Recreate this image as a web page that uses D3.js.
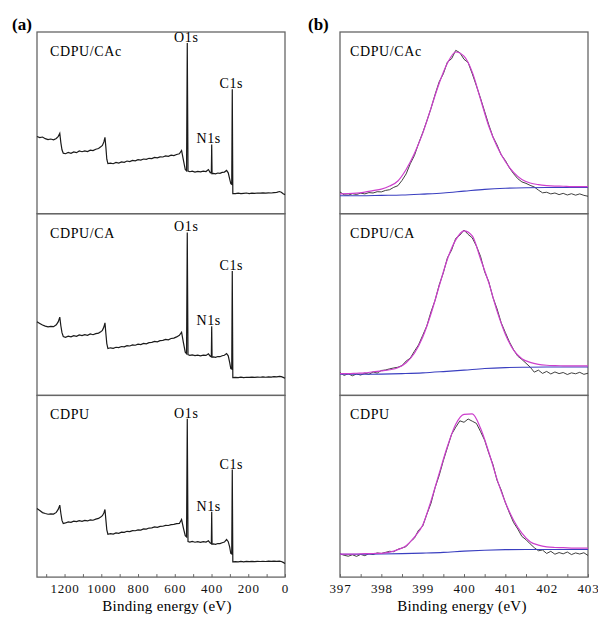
<!DOCTYPE html>
<html>
<head>
<meta charset="utf-8">
<script src="https://cdn.jsdelivr.net/npm/d3@7"></script>
<style>
  body { margin: 0; background: #fff; }
  svg text { font-family: "Liberation Serif", "Times New Roman", serif; }
</style>
</head>
<body>
<div id="chart"></div>
<script>
const samples = ["CDPU/CAc", "CDPU/CA", "CDPU"];

// survey spectra (a)
const surveyEnergy = [
  1350, 1335, 1320, 1305, 1290, 1275, 1260, 1245, 1234, 1226,
  1220, 1214, 1207, 1195, 1180, 1165, 1150, 1135, 1120, 1105,
  1090, 1075, 1060, 1045, 1030, 1015, 1003, 994, 986, 980,
  975, 970, 964, 950, 935, 920, 905, 890, 875, 860,
  845, 830, 815, 800, 785, 770, 755, 740, 725, 710,
  695, 680, 665, 650, 635, 620, 605, 590, 575, 563,
  553, 543, 536, 532, 528, 518, 505, 490, 475, 460,
  445, 430, 417, 407, 401, 399, 397, 390, 378, 366,
  354, 342, 330, 318, 309, 301, 295, 290, 287, 284,
  270, 255, 240, 225, 210, 195, 180, 165, 150, 135,
  120, 105, 90, 75, 60, 45, 30, 20, 10, 0
];
const surveyCAc = [
  42.5, 41.9, 42.2, 41.3, 40.8, 41.1, 40.7, 41.4, 42.6, 44.2,
  39.0, 35.2, 33.3, 33.0, 33.7, 33.2, 34.0, 33.6, 34.5, 34.1,
  34.6, 34.2, 35.0, 34.7, 35.5, 35.9, 36.8, 37.6, 39.5, 42.0,
  36.5, 30.0, 27.6, 27.8, 27.5, 28.2, 27.9, 28.5, 28.3, 29.0,
  28.7, 29.3, 29.1, 29.7, 29.5, 30.1, 29.9, 30.5, 30.3, 31.0,
  30.7, 31.3, 31.2, 31.8, 31.6, 32.2, 32.0, 32.6, 33.0, 34.8,
  29.5, 24.3, 23.6, 93.9, 23.5, 23.1, 23.4, 22.9, 23.3, 23.0,
  23.4, 23.2, 24.3, 22.6, 22.4, 38.1, 22.0, 22.2, 21.9, 22.4,
  22.2, 22.7, 22.9, 23.8, 22.5, 19.0, 16.6, 16.2, 68.5, 11.0,
  11.1, 11.3, 11.0, 11.2, 11.4, 11.1, 11.3, 11.2, 11.4, 11.3,
  11.5, 11.3, 11.5, 11.4, 11.6, 11.7, 12.2, 11.8, 11.0, 10.5
];
const surveyCA = [
  40.5, 39.6, 38.7, 38.1, 37.7, 38.0, 37.8, 38.9, 40.6, 43.1,
  38.2, 34.5, 32.4, 32.0, 32.6, 32.2, 32.9, 32.5, 33.3, 32.9,
  33.4, 33.1, 33.8, 33.4, 34.0, 34.3, 35.0, 35.8, 37.6, 39.9,
  34.0, 28.5, 25.8, 26.2, 25.9, 26.5, 26.3, 26.9, 26.7, 27.4,
  27.2, 27.8, 27.6, 28.2, 28.0, 28.6, 28.4, 29.0, 29.2, 29.7,
  29.5, 30.1, 30.3, 30.8, 30.6, 31.3, 31.5, 32.2, 33.1, 34.8,
  29.0, 23.8, 23.0, 89.7, 22.4, 22.0, 22.3, 21.9, 22.2, 21.8,
  22.2, 22.0, 22.9, 21.6, 21.3, 38.1, 21.0, 21.2, 20.9, 21.4,
  21.3, 21.8, 22.1, 23.0, 21.8, 18.0, 14.8, 14.5, 68.5, 9.8,
  9.9, 9.8, 10.0, 9.8, 10.0, 9.9, 10.1, 9.9, 10.1, 10.0,
  10.2, 10.0, 10.2, 10.1, 10.3, 10.2, 10.5, 10.3, 9.9, 9.4
];
const surveyCDPU = [
  37.7, 36.6, 35.5, 35.0, 34.6, 34.8, 34.7, 35.6, 37.4, 39.6,
  35.0, 31.2, 29.5, 29.8, 30.4, 30.1, 30.8, 30.5, 31.1, 30.7,
  31.2, 30.9, 31.5, 31.3, 31.9, 32.3, 33.1, 33.8, 35.3, 37.2,
  31.5, 26.0, 23.6, 23.9, 23.7, 24.3, 24.1, 24.7, 24.6, 25.2,
  25.0, 25.6, 25.5, 26.0, 25.9, 26.5, 26.4, 27.0, 27.1, 27.6,
  27.4, 27.9, 28.0, 28.5, 28.4, 28.9, 29.0, 29.4, 29.5, 31.7,
  27.0, 22.8, 22.1, 87.2, 19.6, 19.3, 19.6, 19.2, 19.5, 19.1,
  19.5, 19.3, 20.0, 18.7, 18.4, 35.9, 18.1, 18.3, 18.0, 18.5,
  18.4, 18.9, 19.3, 20.7, 19.5, 16.5, 13.0, 12.7, 59.2, 8.4,
  8.5, 8.4, 8.6, 8.4, 8.6, 8.5, 8.7, 8.5, 8.7, 8.6,
  8.7, 8.6, 8.8, 8.7, 8.8, 8.7, 8.8, 8.6, 8.1, 7.5
];
const peakNames = ["O1s", "N1s", "C1s"];
const peakEnergy = [532, 399, 287];

// N1s high resolution (b)
const rawEnergy = [
  397.0, 397.1, 397.2, 397.3, 397.4, 397.5, 397.6, 397.7, 397.8, 397.9,
  398.0, 398.1, 398.2, 398.3, 398.4, 398.5, 398.6, 398.7, 398.8, 398.9,
  399.0, 399.1, 399.2, 399.3, 399.4, 399.5, 399.6, 399.7, 399.8, 399.9,
  400.0, 400.1, 400.2, 400.3, 400.4, 400.5, 400.6, 400.7, 400.8, 400.9,
  401.0, 401.1, 401.2, 401.3, 401.4, 401.5, 401.6, 401.7, 401.8, 401.9,
  402.0, 402.1, 402.2, 402.3, 402.4, 402.5, 402.6, 402.7, 402.8, 402.9,
  403.0
];
const rawCAc = [
  12.0, 10.4, 10.2, 11.0, 10.6, 11.3, 10.9, 11.6, 11.4, 12.1,
  12.0, 12.8, 13.2, 14.5, 15.4, 18.3, 21.9, 27.5, 32.0, 38.6,
  44.5, 51.0, 57.8, 65.6, 72.6, 77.0, 83.5, 85.3, 89.9, 88.6,
  85.0, 83.2, 77.0, 70.4, 63.5, 56.2, 48.9, 42.3, 37.8, 32.4,
  29.3, 25.2, 22.0, 19.3, 17.5, 16.7, 15.6, 14.7, 13.0, 11.5,
  11.8, 10.9, 11.4, 10.5, 11.2, 10.3, 11.0, 10.2, 10.9, 10.1,
  9.6
];
const rawCA = [
  12.5, 11.0, 11.9, 10.8, 11.8, 11.2, 12.2, 11.6, 12.9, 12.3,
  13.7, 14.0, 14.6, 15.1, 15.5, 16.4, 18.9, 20.5, 24.3, 27.8,
  33.0, 38.2, 45.9, 52.3, 60.8, 67.5, 75.8, 80.0, 86.4, 88.2,
  91.0, 88.6, 86.7, 82.2, 76.5, 68.0, 62.5, 53.9, 47.6, 40.0,
  34.6, 29.4, 25.1, 21.6, 19.8, 17.7, 15.6, 12.8, 13.9, 12.1,
  13.2, 11.8, 12.9, 12.0, 12.6, 11.5, 12.4, 11.9, 12.7, 11.6,
  12.2
];
const rawCDPU = [
  12.8, 12.0, 11.5, 12.3, 11.4, 12.5, 11.8, 12.9, 12.4, 13.3,
  13.0, 13.6, 14.2, 14.0, 15.3, 16.0, 16.8, 19.5, 21.4, 25.8,
  28.0, 34.6, 40.5, 49.2, 56.0, 64.1, 71.4, 78.6, 82.5, 86.0,
  85.2, 87.0, 85.8, 84.6, 80.1, 75.3, 68.2, 62.0, 53.2, 47.9,
  41.0, 35.3, 30.0, 26.5, 22.4, 20.6, 18.3, 16.2, 14.5, 14.9,
  13.0, 14.2, 12.6, 13.5, 12.8, 13.8, 12.4, 13.3, 12.7, 13.4,
  11.9
];

const fitEnergy = [
  397.0, 397.2, 397.4, 397.6, 397.8, 398.0, 398.2, 398.4, 398.6, 398.8,
  399.0, 399.2, 399.4, 399.6, 399.8, 400.0, 400.2, 400.4, 400.6, 400.8,
  401.0, 401.2, 401.4, 401.6, 401.8, 402.0, 402.2, 402.4, 402.6, 402.8,
  403.0
];
const fitCAc = [
  10.9, 11.0, 11.3, 11.9, 12.7, 13.5, 15.2, 18.0, 24.3, 33.1,
  44.2, 58.0, 71.8, 82.9, 89.0, 86.7, 77.9, 63.0, 48.1, 37.0,
  28.7, 22.7, 18.8, 16.9, 16.0, 15.5, 15.2, 15.1, 14.9, 14.9,
  14.9
];
const fitCA = [
  12.0, 12.0, 12.2, 12.4, 13.0, 13.5, 14.1, 15.2, 18.0, 23.2,
  32.0, 44.8, 60.2, 75.1, 85.6, 90.6, 87.8, 75.1, 61.9, 46.4,
  33.7, 24.9, 20.2, 18.2, 17.1, 16.6, 16.4, 16.3, 16.2, 16.2,
  16.2
];
const fitCDPU = [
  12.6, 12.6, 12.7, 12.9, 13.0, 13.1, 13.7, 15.1, 17.3, 22.0,
  28.6, 41.8, 57.1, 72.0, 84.1, 89.6, 89.8, 81.9, 68.7, 53.8,
  41.2, 31.3, 24.2, 19.5, 17.6, 16.6, 16.3, 16.2, 16.0, 15.9,
  15.9
];

const baseEnergy = [397.0, 397.5, 398.0, 398.5, 399.0, 399.5, 400.0, 400.5, 401.0, 401.5, 402.0, 402.5, 403.0];
const baseCAc = [9.9, 9.9, 10.1, 10.3, 10.8, 11.4, 12.4, 13.4, 14.0, 14.3, 14.4, 14.4, 14.4];
const baseCA = [11.6, 11.6, 11.7, 12.0, 12.4, 13.1, 13.9, 14.8, 15.3, 15.5, 15.6, 15.6, 15.6];
const baseCDPU = [12.6, 12.6, 12.7, 12.9, 13.2, 13.6, 14.3, 14.8, 15.1, 15.2, 15.2, 15.2, 15.2];

const surveyTicks = [0, 100, 200, 300, 400, 500, 600, 700, 800, 900, 1000, 1100, 1200, 1300];
const n1sTicks = [397, 397.5, 398, 398.5, 399, 399.5, 400, 400.5, 401, 401.5, 402, 402.5, 403];

const surveys = [surveyCAc, surveyCA, surveyCDPU];
const raws = [rawCAc, rawCA, rawCDPU];
const fits = [fitCAc, fitCA, fitCDPU];
const bases = [baseCAc, baseCA, baseCDPU];

const size = { width: 598, height: 617 };
const panelTop = 32;
const panelH = 181.7;
const colors = { frame: "#666", raw: "#1a1a1a", fit: "#cc3fcc", base: "#3a3fc0" };

const svg = d3
  .select("#chart")
  .append("svg")
  .attr("width", size.width)
  .attr("height", size.height)
  .style("background", "#fff");

const xSurvey = d3.scaleLinear().domain([1350, 0]).range([37, 285]);
const xN1s = d3.scaleLinear().domain([397, 403]).range([340, 588]);
const yPanel = (i) =>
  d3
    .scaleLinear()
    .domain([0, 100])
    .range([panelTop + (i + 1) * panelH, panelTop + i * panelH]);

const pair = (xs, ys) => xs.map((x, i) => [x, ys[i]]);

samples.forEach((name, i) => {
  const y = yPanel(i);

  // left: survey
  svg
    .append("rect")
    .attr("x", 37)
    .attr("y", panelTop + i * panelH)
    .attr("width", 248)
    .attr("height", panelH)
    .attr("fill", "none")
    .attr("stroke", colors.frame)
    .attr("stroke-width", 1.3);

  svg
    .append("path")
    .datum(pair(surveyEnergy, surveys[i]))
    .attr("fill", "none")
    .attr("stroke", colors.raw)
    .attr("stroke-width", 1.2)
    .attr("d", d3.line().x((d) => xSurvey(d[0])).y((d) => y(d[1])));

  const peakShift = [-1, -3, -1];
  peakNames.forEach((p, k) => {
    const v = surveys[i][surveyEnergy.indexOf(peakEnergy[k])];
    svg
      .append("text")
      .attr("x", xSurvey(peakEnergy[k]) + peakShift[k])
      .attr("y", y(v) - 1)
      .attr("text-anchor", "middle")
      .style("font-size", "14px")
      .style("letter-spacing", "0.6px")
      .text(p);
  });

  svg
    .append("text")
    .attr("x", 50)
    .attr("y", panelTop + i * panelH + 24)
    .style("font-size", "14px")
    .style("letter-spacing", "0.6px")
    .text(name);

  // right: N1s
  svg
    .append("rect")
    .attr("x", 340)
    .attr("y", panelTop + i * panelH)
    .attr("width", 248)
    .attr("height", panelH)
    .attr("fill", "none")
    .attr("stroke", colors.frame)
    .attr("stroke-width", 1.3);

  const line = d3.line().x((d) => xN1s(d[0])).y((d) => y(d[1]));

  svg
    .append("path")
    .datum(pair(rawEnergy, raws[i]))
    .attr("fill", "none")
    .attr("stroke", "#2a2a2a")
    .attr("stroke-width", 0.9)
    .attr("d", line);

  svg
    .append("path")
    .datum(pair(baseEnergy, bases[i]))
    .attr("fill", "none")
    .attr("stroke", colors.base)
    .attr("stroke-width", 1.1)
    .attr("d", line.curve(d3.curveMonotoneX));

  svg
    .append("path")
    .datum(pair(fitEnergy, fits[i]))
    .attr("fill", "none")
    .attr("stroke", colors.fit)
    .attr("stroke-width", 1.2)
    .attr("d", line.curve(d3.curveMonotoneX));

  svg
    .append("text")
    .attr("x", 350)
    .attr("y", panelTop + i * panelH + 24)
    .style("font-size", "14px")
    .style("letter-spacing", "0.6px")
    .text(name);
});

const bottom = panelTop + 3 * panelH;

const axisA = svg
  .append("g")
  .attr("transform", `translate(0, ${bottom})`)
  .call(
    d3
      .axisBottom(xSurvey)
      .tickValues(surveyTicks)
      .tickSize(-3)
      .tickPadding(7)
      .tickFormat((d) => (d % 200 === 0 ? d : ""))
  );

const axisB = svg
  .append("g")
  .attr("transform", `translate(0, ${bottom})`)
  .call(
    d3
      .axisBottom(xN1s)
      .tickValues(n1sTicks)
      .tickSize(-3)
      .tickPadding(7)
      .tickFormat((d) => (d % 1 === 0 ? d : ""))
  );

[axisA, axisB].forEach((g) => {
  g.select(".domain").remove();
  g.selectAll("line").attr("stroke", colors.frame);
  g.selectAll("text")
    .attr("fill", "#111")
    .style("font-size", "13px")
    .style("letter-spacing", "0.8px")
    .style("font-family", "Liberation Serif, serif");
});

svg
  .append("text")
  .attr("x", 167)
  .attr("y", 611)
  .attr("text-anchor", "middle")
  .style("font-size", "15px")
  .style("letter-spacing", "0.3px")
  .text("Binding energy (eV)");

svg
  .append("text")
  .attr("x", 462)
  .attr("y", 611)
  .attr("text-anchor", "middle")
  .style("font-size", "15px")
  .style("letter-spacing", "0.3px")
  .text("Binding energy (eV)");

svg
  .append("text")
  .attr("x", 12)
  .attr("y", 30)
  .style("font-size", "17px")
  .style("font-weight", "bold")
  .text("(a)");

svg
  .append("text")
  .attr("x", 308)
  .attr("y", 30)
  .style("font-size", "17px")
  .style("font-weight", "bold")
  .text("(b)");
</script>
</body>
</html>
